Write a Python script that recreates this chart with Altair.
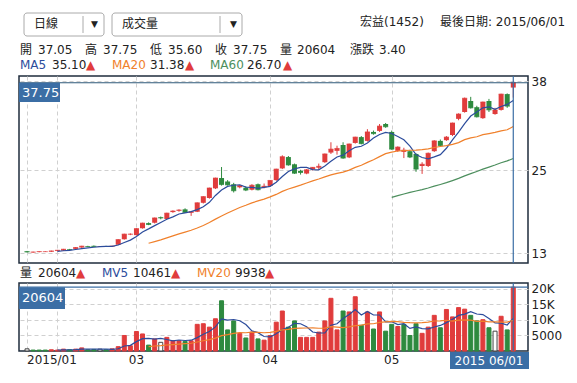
import altair as alt
import pandas as pd

# ---------------- data ----------------
idx = list(range(81))
opens = [13.25, 13.10, 13.15, 13.20, 13.20, 13.30, 13.35, 13.55, 13.60, 13.80,
         14.00, 14.05, 13.95, 14.00, 13.95, 14.20, 15.00, 15.70, 15.60, 16.60,
         17.35, 17.40, 18.20, 17.95, 18.95, 19.15, 19.35, 18.85, 19.00, 20.30,
         21.00, 22.40, 23.90, 23.40, 23.00, 22.55, 22.50, 22.20, 23.00, 22.55,
         22.75, 23.60, 25.30, 26.95, 25.90, 24.95, 24.55, 25.15, 25.40, 26.20,
         27.60, 27.85, 28.70, 26.90, 29.00, 29.85, 29.30, 30.60, 30.75, 31.75,
         30.60, 27.85, 27.70, 27.80, 27.40, 25.65, 25.65, 27.80, 29.30, 29.40,
         30.15, 32.50, 33.50, 35.10, 34.20, 32.60, 35.10, 33.20, 33.80, 36.10,
         37.05]
highs = [13.30, 13.20, 13.25, 13.25, 13.35, 13.45, 13.60, 13.60, 13.85, 14.05,
         14.05, 14.10, 14.00, 14.05, 14.05, 15.00, 15.80, 15.85, 16.60, 17.40,
         17.45, 18.15, 18.30, 18.85, 19.20, 19.35, 19.50, 19.05, 20.35, 21.25,
         22.50, 23.95, 25.50, 23.60, 23.20, 22.90, 22.70, 23.00, 23.10, 23.10,
         23.60, 25.25, 27.20, 27.10, 26.00, 25.10, 25.20, 25.50, 26.00, 27.45,
         29.10, 28.60, 29.10, 28.90, 29.90, 30.00, 31.00, 30.80, 31.75, 31.90,
         30.80, 28.50, 28.30, 28.00, 27.50, 26.20, 27.60, 29.40, 29.50, 30.00,
         31.95, 33.30, 35.60, 35.70, 34.40, 35.00, 35.40, 34.10, 36.15, 36.20,
         37.75]
lows = [13.10, 13.05, 13.10, 13.15, 13.15, 13.25, 13.30, 13.45, 13.55, 13.75,
        13.90, 13.90, 13.90, 13.90, 13.90, 14.15, 14.95, 15.60, 15.55, 16.55,
        17.05, 17.30, 17.90, 17.90, 18.85, 19.00, 18.85, 18.40, 18.95, 20.20,
        20.90, 22.30, 22.80, 22.80, 21.80, 22.40, 22.00, 22.10, 22.10, 22.40,
        22.65, 23.50, 25.20, 25.70, 24.50, 24.40, 24.45, 25.00, 25.10, 26.10,
        27.40, 27.30, 26.70, 26.80, 28.90, 28.80, 29.20, 30.20, 30.60, 31.20,
        28.00, 27.70, 26.80, 26.80, 24.80, 24.50, 25.50, 27.70, 28.50, 29.30,
        30.00, 32.30, 33.40, 34.00, 32.70, 32.50, 33.50, 33.10, 33.70, 34.10,
        35.60]
closes = [13.15, 13.15, 13.20, 13.20, 13.30, 13.40, 13.55, 13.50, 13.80, 14.00,
          13.95, 13.95, 13.95, 13.95, 14.00, 14.95, 15.75, 15.75, 16.55, 17.35,
          17.15, 18.10, 18.10, 18.80, 19.10, 19.25, 18.90, 19.00, 20.30, 21.20,
          22.45, 23.90, 22.95, 22.90, 22.05, 22.80, 22.15, 22.85, 22.20, 22.70,
          23.55, 25.20, 27.00, 25.80, 24.60, 24.70, 25.10, 25.45, 25.60, 27.40,
          28.10, 28.20, 26.80, 28.85, 29.85, 28.90, 30.60, 30.35, 31.45, 31.35,
          28.10, 28.40, 27.95, 26.95, 25.20, 25.90, 27.50, 29.30, 28.60, 29.85,
          31.90, 33.20, 35.50, 34.10, 32.80, 34.95, 33.80, 33.80, 36.10, 34.35,
          37.75]
volumes = [700, 300, 300, 300, 400, 300, 600, 400, 600, 1000,
           400, 500, 600, 400, 700, 1400, 5000, 1700, 6300, 5500,
           1900, 3900, 2800, 4400, 3300, 3300, 3100, 3300, 8600, 8800,
           7700, 10400, 16200, 6800, 9700, 5700, 4200, 6100, 3900, 3500,
           5000, 9300, 12900, 7700, 9700, 4400, 4400, 4400, 6100, 9700,
           17000, 6800, 12900, 12600, 17500, 8300, 12600, 7100, 12600, 6400,
           8600, 7900, 8600, 5000, 8800, 5700, 7700, 11500, 7500, 13400,
           11000, 14000, 13500, 11500, 9700, 10100, 7500, 6400, 11200, 6800,
           20604]
vol_dir = ["flat", "down", "down", "down", "up", "up", "up", "down", "up", "up",
           "down", "down", "flat", "down", "up", "up", "up", "up", "up", "up",
           "down", "up", "flat", "up", "up", "up", "down", "up", "up", "up",
           "up", "up", "down", "down", "down", "up", "down", "up", "down", "up",
           "up", "up", "up", "down", "down", "up", "up", "up", "up", "up",
           "up", "up", "down", "up", "up", "down", "up", "down", "up", "down",
           "down", "up", "down", "down", "down", "up", "up", "up", "down", "up",
           "up", "up", "up", "down", "down", "up", "down", "flat", "up", "down",
           "up"]

month_idx = [0, 5, 18, 40, 60]
month_labels = ["2015/01", "", "03", "04", "05"]
price_ticks = [13, 25, 38]
vol_ticks = [5000, 10000, 15000, 20000]

ohlc_names = ["開", "高", "低", "收", "量", "漲跌"]
ohlc_values = ["37.05", "37.75", "35.60", "37.75", "20604", "3.40"]
ma_names = ["MA5", "MA20", "MA60"]
ma_values = ["35.10", "31.38", "26.70"]
mv_names = ["量", "MV5", "MV20"]
mv_values = ["20604", "10461", "9938"]
stock_name = "宏益(1452)"
last_date_text = "最後日期: 2015/06/01"
cross_date = "2015 06/01"
dropdowns = ["日線", "成交量"]

# ---------------- styles ----------------
FONT = "DejaVu Sans, Noto Sans CJK TC"
RED = "#e03c3c"
GREEN = "#2e8a3f"
BLUE = "#2c4c9c"
ORANGE = "#f0812c"
MA60C = "#4d8f5e"
DARK = "#222222"
CROSS = "#3b6ea5"
BORDER = "#1f2d3d"

df = pd.DataFrame({"i": idx, "o": opens, "h": highs, "l": lows, "c": closes,
                   "v": volumes, "vd": vol_dir})
months = pd.DataFrame({"i": month_idx, "lab": month_labels})
last_i = idx[-1]
dummy = pd.DataFrame({"d": [0]})

W = 509
xs = alt.Scale(domain=[-0.5, 81.6], nice=False, zero=False)
ys = alt.Scale(domain=[11.55, 38.73], nice=False, zero=False)
vs = alt.Scale(domain=[0, 21935], nice=False)

X = alt.X("i:Q", scale=xs, axis=alt.Axis(values=month_idx, labels=False, ticks=False,
                                         domain=False, grid=True, title=None))
def PY(field):
    return alt.Y(field, scale=ys, axis=alt.Axis(orient="right", values=price_ticks, ticks=False,
                                                domain=False, grid=True, title=None, labelPadding=3))

def txt(s, x, y, color=DARK, size=12, align="left"):
    return alt.Chart(dummy).mark_text(text=s, align=align, baseline="middle", fontSize=size,
                                      color=color, font=FONT).encode(x=alt.value(x), y=alt.value(y))

base = alt.Chart(df).transform_calculate(cd="datum.c >= datum.o ? 'up' : 'down'")
ccol = alt.Color("cd:N", scale=alt.Scale(domain=["up", "down"], range=[RED, GREEN]), legend=None)

wick = base.mark_rule(strokeWidth=1).encode(x=X, y=PY("l:Q"), y2="h:Q", color=ccol)
body = base.mark_bar(size=5).encode(x=X, y=PY("o:Q"), y2="c:Q", color=ccol)
doji = base.mark_tick(orient="horizontal", size=5, thickness=1).encode(x=X, y=PY("c:Q"), color=ccol)

def ma_line(n, color):
    return (alt.Chart(df)
            .transform_window(ma="mean(c)", frame=[-(n - 1), 0], sort=[alt.SortField("i")])
            .transform_filter(f"datum.i >= {n}")
            .mark_line(color=color, strokeWidth=1.2)
            .encode(x=X, y=PY("ma:Q")))

last = alt.Chart(df).transform_filter(f"datum.i == {last_i}")
vrule = last.mark_rule(color=CROSS, strokeWidth=1.2).encode(x=X)
hrule = last.mark_rule(color="#2f5a7a", strokeWidth=1.2).encode(y=PY("c:Q"))
pbox = last.mark_rect(color=CROSS).encode(x=alt.value(0), x2=alt.value(41), y=PY("c:Q"), y2=alt.value(26))
ptxt = last.mark_text(align="left", baseline="middle", dy=10, color="white", fontSize=13,
                      font=FONT).encode(x=alt.value(3), y=PY("c:Q"), text=alt.Text("c:Q", format=".2f"))

header = [
    alt.Chart(dummy).mark_rect(fill="white", stroke="#aaaaaa", cornerRadius=3).encode(
        x=alt.value(5), x2=alt.value(85), y=alt.value(-63), y2=alt.value(-40)),
    alt.Chart(dummy).mark_rect(fill="white", stroke="#aaaaaa", cornerRadius=3).encode(
        x=alt.value(93), x2=alt.value(223), y=alt.value(-63), y2=alt.value(-40)),
    alt.Chart(dummy).mark_rule(color="#aaaaaa").encode(x=alt.value(64), y=alt.value(-60), y2=alt.value(-43)),
    alt.Chart(dummy).mark_rule(color="#aaaaaa").encode(x=alt.value(201), y=alt.value(-60), y2=alt.value(-43)),
    txt(dropdowns[0], 15, -52), txt("▼", 72, -52, size=9),
    txt(dropdowns[1], 103, -52), txt("▼", 211, -52, size=9),
    txt(stock_name, 341, -54), txt(last_date_text, 421, -54),
]
ohlc_x = [(1, 19), (66, 84), (131, 149), (196, 214), (261, 278), (331, 360)]
for (nx, vx), n, v in zip(ohlc_x, ohlc_names, ohlc_values):
    header += [txt(n, nx, -26), txt(v, vx, -26)]
ma_x = [(1, 33, 67), (93, 131, 166), (191, 228, 264)]
for (nx, vx, tx), n, v, col in zip(ma_x, ma_names, ma_values, [BLUE, ORANGE, MA60C]):
    header += [txt(n, nx, -11, color=col), txt(v, vx, -11), txt("▲", tx, -11, color=RED)]
mv_x = [(1, 19, 57), (83, 114, 152), (178, 216, 246)]
for (nx, vx, tx), n, v, col in zip(mv_x, mv_names, mv_values, [DARK, BLUE, ORANGE]):
    header += [txt(n, nx, 197, color=col), txt(v, vx, 197), txt("▲", tx, 197, color=RED)]

main = alt.layer(wick, body, doji, ma_line(5, BLUE), ma_line(20, ORANGE), ma_line(60, MA60C),
                 hrule, vrule, pbox, ptxt, *header).properties(width=W, height=187)

# ---------------- volume panel ----------------
VX = alt.X("i:Q", scale=xs, axis=alt.Axis(values=month_idx, labels=False, ticks=False, domain=False,
                                          grid=True, title=None))
def VY(field):
    return alt.Y(field, scale=vs, axis=alt.Axis(orient="right", values=vol_ticks, ticks=False, domain=False,
                                                grid=True, title=None, labelPadding=3,
                                                labelExpr="datum.value >= 10000 ? (datum.value/1000) + 'K' : '' + datum.value"))

vbars = alt.Chart(df).mark_bar(size=4, strokeWidth=1).encode(
    x=VX, y=VY("v:Q"),
    fill=alt.Fill("vd:N", scale=alt.Scale(domain=["up", "down", "flat"], range=[RED, GREEN, "white"]), legend=None),
    stroke=alt.Stroke("vd:N", scale=alt.Scale(domain=["up", "down", "flat"], range=[RED, GREEN, "#444444"]), legend=None))

def mv_line(n, color):
    return (alt.Chart(df)
            .transform_window(mv="mean(v)", frame=[-(n - 1), 0], sort=[alt.SortField("i")])
            .transform_filter(f"datum.i >= {n}")
            .mark_line(color=color, strokeWidth=1.2)
            .encode(x=VX, y=VY("mv:Q")))

# month labels under the volume panel (first one left-aligned, the others centred)
mlab_first = alt.Chart(months).transform_filter("datum.i == 0").mark_text(
    align="left", baseline="middle", fontSize=12, color=DARK, font=FONT).encode(
    x=VX, y=alt.value(77), text="lab:N")
mlab_rest = alt.Chart(months).transform_filter("datum.i > 0").mark_text(
    align="center", baseline="middle", fontSize=12, color=DARK, font=FONT).encode(
    x=VX, y=alt.value(77), text="lab:N")

vlast = alt.Chart(df).transform_filter(f"datum.i == {last_i}")
v_vrule = vlast.mark_rule(color=CROSS, strokeWidth=1.2).encode(x=VX)
v_hrule = vlast.mark_rule(color=CROSS, strokeWidth=1.2).encode(y=VY("v:Q"))
vbox = vlast.mark_rect(color=CROSS).encode(x=alt.value(0), x2=alt.value(46), y=VY("v:Q"), y2=alt.value(26))
vtxt = vlast.mark_text(align="left", baseline="middle", dy=11, color="white", fontSize=13,
                       font=FONT).encode(x=alt.value(3), y=VY("v:Q"), text=alt.Text("v:Q", format="d"))
dbox = alt.Chart(dummy).mark_rect(color=CROSS).encode(x=alt.value(431), x2=alt.value(510),
                                                      y=alt.value(69), y2=alt.value(86))
dtxt = txt(cross_date, 470, 77.5, color="white", size=12, align="center")

vol = alt.layer(vbars, mv_line(5, BLUE), mv_line(20, ORANGE), v_hrule, v_vrule, vbox, vtxt,
                mlab_first, mlab_rest, dbox, dtxt).properties(width=W, height=68)

chart = (alt.vconcat(main, vol, spacing=1)
         .properties(padding={"left": 9, "top": 3, "right": 2, "bottom": 2}, background="white")
         .configure_view(stroke=BORDER, strokeWidth=1.5)
         .configure_axis(labelFont=FONT, labelFontSize=12, labelColor=DARK,
                         gridColor="#d0d0d0", gridDash=[4, 3], gridWidth=1))

chart.save("out.html", embed_options={"renderer": "svg", "actions": False})
